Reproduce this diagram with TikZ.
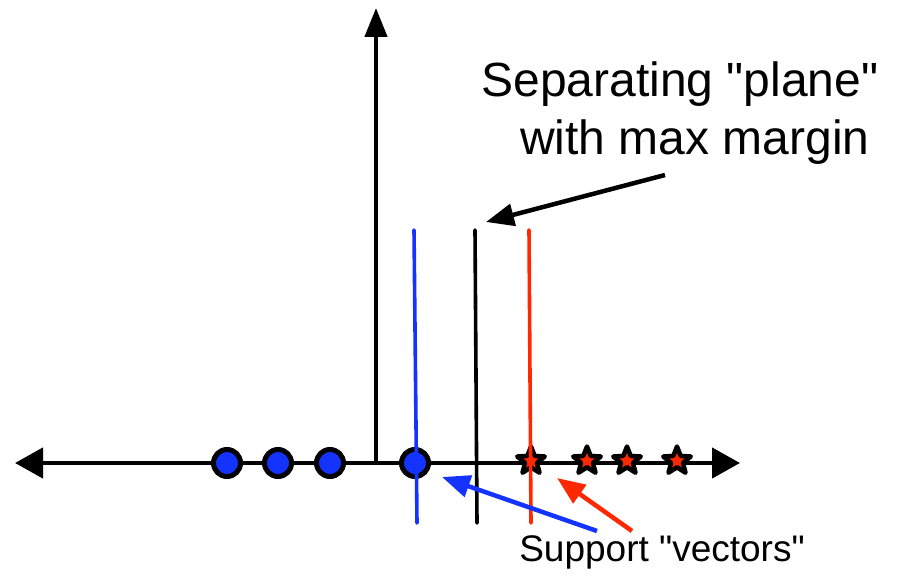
\documentclass[tikz,border=0pt]{standalone}
\usepackage{fontspec}
\setmainfont[Ligatures=TeXOff]{Liberation Sans}
\usetikzlibrary{arrows.meta,shapes.geometric}
\definecolor{ptblue}{RGB}{20,51,255}
\definecolor{ptred}{RGB}{255,40,0}
\tikzset{
  axis/.style={line width=4.5pt,-{Triangle[length=28pt,width=30pt]}},
  pointer/.style={line width=4.5pt,-{Triangle[length=28pt,width=22pt]}},
  negpt/.style={circle,draw=black,fill=ptblue,line width=5pt,minimum size=27pt,inner sep=0pt},
  pospt/.style={star,star points=5,star point ratio=2.3,draw=black,fill=ptred,line width=4.5pt,line join=round,minimum size=29pt,inner sep=0pt},
  margin/.style={line width=3.6pt,line cap=round},
  lbl/.style={inner sep=0pt,anchor=base}
}
\begin{document}
\begin{tikzpicture}[x=1pt,y=-1pt]
\useasboundingbox (0,0) rectangle (907,577);
% axes
\coordinate (O) at (376,463);
\coordinate (xl) at (15,463);
\coordinate (xr) at (740,463);
\coordinate (yt) at (376,8);
\draw[axis] (O) -- (xl);
\draw[axis] (O) -- (xr);
\draw[line width=4.5pt,-{Triangle[length=29pt,width=22pt]}] (O) -- (yt);
% negative examples
\node[negpt] (n1) at (227,463) {};
\node[negpt] (n2) at (278,463) {};
\node[negpt] (n3) at (330,463) {};
\node[negpt] (n4) at (415,463) {};
% positive examples
\node[pospt] (p1) at (531,461) {};
\node[pospt] (p2) at (587,461) {};
\node[pospt] (p3) at (627,461) {};
\node[pospt] (p4) at (677,461) {};
% margin boundaries and separating plane
\coordinate (bt) at (414,230); \coordinate (bb) at (417,523);
\coordinate (st) at (475,230); \coordinate (sb) at (477,523);
\coordinate (rt) at (529,230); \coordinate (rb) at (531,523);
\draw[margin,ptblue] (bt) -- (bb);
\draw[margin,black] (st) -- (sb);
\draw[margin,ptred] (rt) -- (rb);
% labels
\node[lbl,font=\fontsize{48}{48}\selectfont] (title1) at (680,97) {Separating "plane"};
\node[lbl,font=\fontsize{48}{48}\selectfont] (title2) at (695,155) {with max margin};
\node[lbl,font=\fontsize{37}{37}\selectfont] (sv) at (662,561) {Support "vectors"};
% pointers
\coordinate (ta) at (665,175);
\coordinate (th) at (486,222);
\draw[pointer] (ta) -- (th);
\coordinate (ba) at (597,531);
\coordinate (bh) at (442,477);
\draw[pointer,ptblue] (ba) -- (bh);
\coordinate (ra) at (632,531);
\coordinate (rh) at (557,478);
\draw[pointer,ptred] (ra) -- (rh);
\end{tikzpicture}
\end{document}
